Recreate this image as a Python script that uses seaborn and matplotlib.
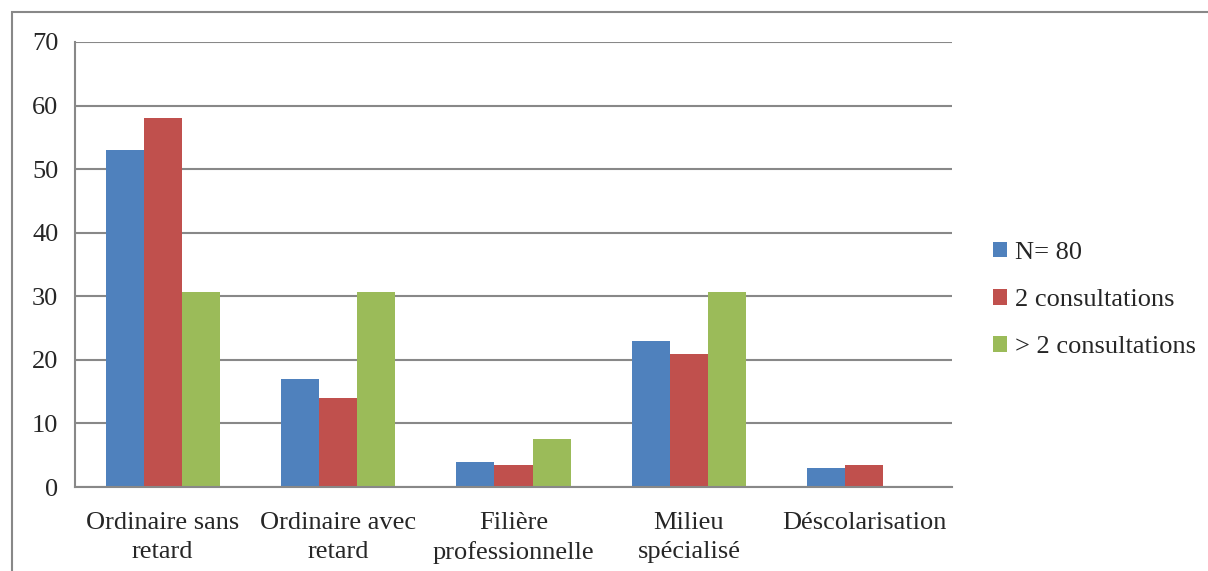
import matplotlib
matplotlib.use("Agg")
import matplotlib.pyplot as plt
import seaborn as sns
import pandas as pd
from matplotlib.patches import Patch, Rectangle

categories = ["Ordinaire sans\nretard", "Ordinaire avec\nretard", "Filière\nprofessionnelle",
              "Milieu\nspécialisé", "Déscolarisation"]
series_names = ["N= 80", "2 consultations", "> 2 consultations"]
n80 = [53, 17, 4, 23, 3]
consult2 = [58, 14, 3.5, 21, 3.5]
consult_gt2 = [30.7, 30.7, 7.5, 30.7, 0]
colors = ["#4F81BD", "#C0504D", "#9BBB59"]
y_ticks = [0, 10, 20, 30, 40, 50, 60, 70]

rows = []
for s, vals in zip(series_names, [n80, consult2, consult_gt2]):
    for c, v in zip(categories, vals):
        rows.append({"cat": c, "series": s, "value": v})
df = pd.DataFrame(rows)

sns.set_style("white")
plt.rcParams["font.family"] = ["Liberation Serif", "DejaVu Serif"]

fs = 19
fig = plt.figure(figsize=(12.08, 5.71), dpi=100)
ax = fig.add_axes([75/1208, 1-487/571, (952-75)/1208, (487-42)/571])

sns.barplot(data=df, x="cat", y="value", hue="series", palette=colors,
            width=0.65, saturation=1, ax=ax, legend=False, linewidth=0)

grid_c = "#888888"
ax.set_ylim(0, 70)
ax.set_xlim(-0.5, 4.5)
ax.set_yticks(y_ticks)
ax.set_yticklabels([str(t) for t in y_ticks], fontsize=fs)
ax.yaxis.grid(True, color=grid_c, linewidth=1.5)
ax.set_axisbelow(True)
ax.set_xlabel("")
ax.set_ylabel("")
ax.set_xticks(range(len(categories)))
ax.set_xticklabels(categories, fontsize=fs, linespacing=1.4)
ax.set_xticks([i - 0.5 for i in range(len(categories) + 1)], minor=True)
ax.tick_params(axis="x", which="major", length=0, pad=18)
ax.tick_params(axis="x", which="minor", length=7, width=1.5, color=grid_c, direction="out")
ax.tick_params(axis="y", which="major", length=7, width=1.5, color=grid_c, direction="out", pad=5)
for side in ["top", "right"]:
    ax.spines[side].set_visible(False)
for side in ["left", "bottom"]:
    ax.spines[side].set_color(grid_c)
    ax.spines[side].set_linewidth(1.5)

handles = [Patch(facecolor=c, edgecolor="none") for c in colors]
fig.legend(handles, series_names, loc="center left",
           bbox_to_anchor=(969/1208, 1-300/571), frameon=False, fontsize=fs,
           handlelength=0.55, handleheight=0.55, handletextpad=0.3, labelspacing=0.95)

fig.patches.append(Rectangle((12/1208, -0.01), 1.2, 1-12/571+0.01, transform=fig.transFigure,
                             fill=False, edgecolor="#888888", linewidth=1.5))

fig.savefig("out.png", dpi=100)
